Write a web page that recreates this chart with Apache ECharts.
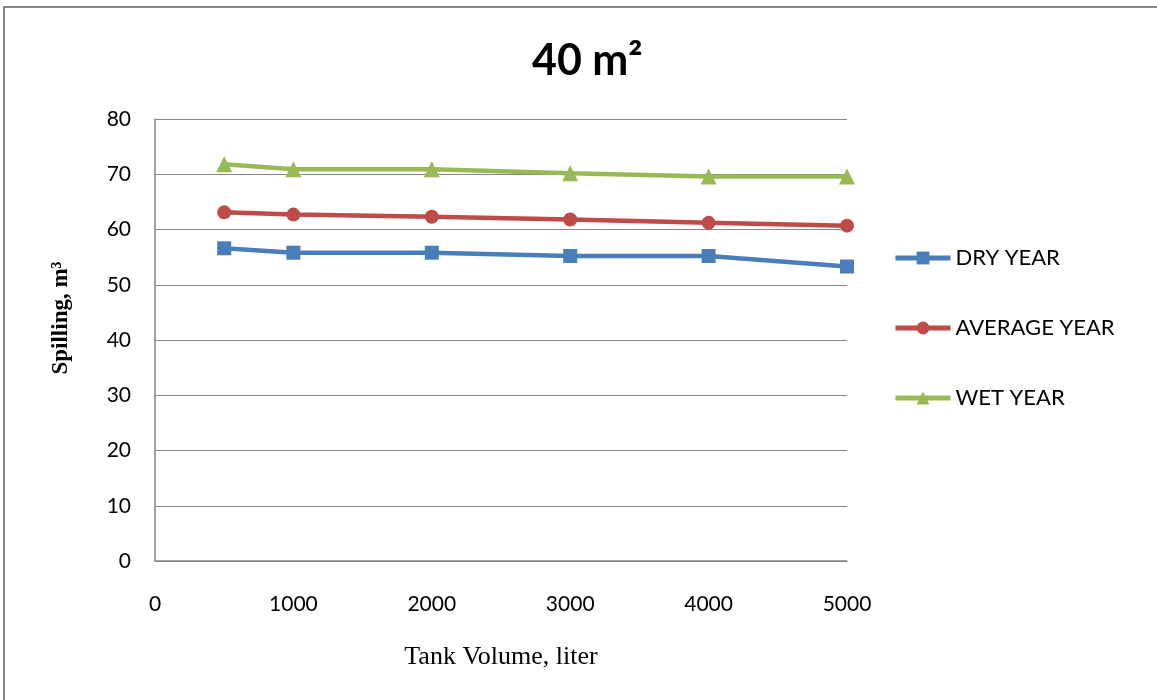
<!DOCTYPE html>
<html>
<head>
<meta charset="utf-8">
<script src="https://cdn.jsdelivr.net/npm/echarts@6/dist/echarts.min.js"></script>
<style>
  html, body { margin: 0; padding: 0; background: #ffffff; }
  #chart { width: 1157px; height: 700px; }
</style>
</head>
<body>
<div id="chart"></div>
<script>
// Tank volumes (liter) and spilling volumes (m³) for a 40 m² roof
const tankVolumes = [500, 1000, 2000, 3000, 4000, 5000];
const dryYear = [56.6, 55.8, 55.8, 55.2, 55.2, 53.3];
const averageYear = [63.1, 62.7, 62.3, 61.8, 61.2, 60.7];
const wetYear = [71.8, 70.9, 70.9, 70.2, 69.6, 69.6];
const seriesNames = ['DRY YEAR', 'AVERAGE YEAR', 'WET YEAR'];

const pairs = (vals) => tankVolumes.map((v, i) => [v, vals[i]]);

const gray = '#868686';
const sansFont = 'Lato, "Open Sans", sans-serif';
const serifFont = '"Liberation Serif", "DejaVu Serif", serif';

const chart = echarts.init(document.getElementById('chart'), null, { renderer: 'canvas' });

function lineSeries(name, vals, color, symbol, size) {
  return {
    name: name,
    type: 'line',
    data: pairs(vals),
    symbol: symbol,
    symbolSize: size,
    showAllSymbol: true,
    lineStyle: { color: color, width: 4.5 },
    itemStyle: { color: color },
    emphasis: { disabled: true },
    animation: false
  };
}

chart.setOption({
  backgroundColor: '#ffffff',
  animation: false,
  title: {
    text: '40 m²',
    left: 527,
    top: 35,
    textStyle: { fontFamily: sansFont, fontWeight: 'bold', fontSize: 43, color: '#000000' }
  },
  graphic: [{
    type: 'rect',
    shape: { x: 4, y: 7, width: 1170, height: 710 },
    style: { fill: 'none', stroke: gray, lineWidth: 2 },
    silent: true
  }],
  legend: {
    orient: 'vertical',
    left: 893,
    top: 247,
    padding: 0,
    itemWidth: 55,
    itemHeight: 16,
    itemGap: 48,
    data: seriesNames,
    lineStyle: { width: 5 },
    textStyle: { fontFamily: sansFont, fontSize: 22, color: '#000000', lineHeight: 22 }
  },
  grid: { left: 155, right: 310, top: 119, bottom: 139, containLabel: false },
  xAxis: {
    type: 'value',
    min: 0,
    max: 5000,
    interval: 1000,
    name: 'Tank Volume, liter',
    nameLocation: 'middle',
    nameGap: 83,
    nameTextStyle: { fontFamily: serifFont, fontSize: 26, color: '#000000' },
    axisLine: { show: true, lineStyle: { color: gray, width: 1.5 } },
    axisTick: { show: false },
    splitLine: { show: false },
    axisLabel: { fontFamily: sansFont, fontSize: 21, color: '#000000', margin: 33, formatter: (v) => String(v) }
  },
  yAxis: {
    type: 'value',
    min: 0,
    max: 80,
    interval: 10,
    name: 'Spilling, m³',
    nameLocation: 'middle',
    nameRotate: 90,
    nameGap: 82,
    nameTextStyle: { fontFamily: serifFont, fontSize: 23, fontWeight: 'bold', color: '#000000', padding: [0, 0, 0, 44] },
    axisLine: { show: true, lineStyle: { color: gray, width: 1.5 } },
    axisTick: { show: false },
    splitLine: { show: true, lineStyle: { color: gray, width: 1.2 } },
    axisLabel: { fontFamily: sansFont, fontSize: 21, color: '#000000', margin: 24 }
  },
  series: [
    lineSeries(seriesNames[0], dryYear, '#4a7ebb', 'rect', 14),
    lineSeries(seriesNames[1], averageYear, '#be4b48', 'circle', 14),
    lineSeries(seriesNames[2], wetYear, '#98b954', 'triangle', 16)
  ]
});
</script>
</body>
</html>
